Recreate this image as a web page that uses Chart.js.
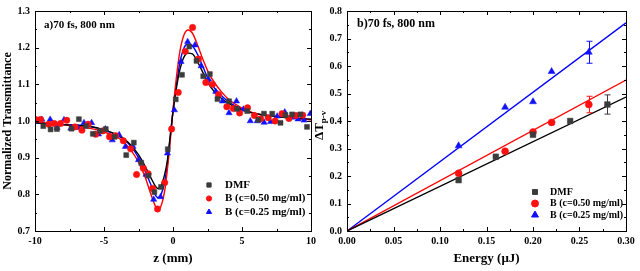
<!DOCTYPE html>
<html>
<head>
<meta charset="utf-8">
<script src="https://cdn.jsdelivr.net/npm/chart.js@4.4.1/dist/chart.umd.min.js"></script>
<style>
  html, body { margin: 0; padding: 0; background: #fff; overflow: hidden; }
  #wa { position: absolute; left: 0; top: 0; width: 320px; height: 271px; }
  #wb { position: absolute; left: 312px; top: 0; width: 328px; height: 271px; }
</style>
</head>
<body>
<div id="wa"><canvas id="ca"></canvas></div>
<div id="wb"><canvas id="cb"></canvas></div>
<script>
// ---- panel a: Z-scan, normalized transmittance vs z (mm) ----
const zDMF = [-9.4, -8.87, -8.41, -7.35, -6.82, -6.3, -5.81, -5.3, -4.87, -4.23, -3.39, -2.84, -2.3, -1.78, -1.35, -0.87, -0.38, 0.2, 0.65, 1.18, 1.7, 2.19, 2.67, 3.22, 4.06, 4.64, 5.38, 6.18, 6.59, 7.19, 7.79, 8.15, 8.63, 9.23, 9.71];
const tDMF = [0.986, 0.977, 0.978, 0.979, 1.005, 0.986, 0.965, 0.973, 0.978, 0.957, 0.907, 0.941, 0.886, 0.851, 0.806, 0.82, 0.923, 1.059, 1.126, 1.203, 1.164, 1.122, 1.128, 1.06, 1.054, 1.033, 1.027, 1.003, 1.02, 1.02, 0.995, 1.016, 1.018, 1.018, 0.984];

const zB50 = [-10, -9.6, -9.0, -8.6, -8.15, -7.7, -7.1, -6.6, -6.15, -5.6, -5.1, -4.6, -4.15, -3.6, -3.07, -2.64, -2.15, -1.8, -1.48, -1.12, -0.6, -0.1, 0.38, 0.89, 1.42, 1.85, 2.38, 2.86, 3.3, 3.9, 4.37, 4.83, 5.4, 5.9, 6.35, 6.9, 7.4, 7.9, 8.4, 8.9, 9.4];
const tB50 = [1.005, 1.004, 0.991, 0.993, 0.993, 1.002, 0.984, 0.975, 0.991, 0.964, 0.973, 0.957, 0.96, 0.946, 0.924, 0.854, 0.871, 0.856, 0.816, 0.76, 0.832, 0.978, 1.078, 1.19, 1.255, 1.169, 1.105, 1.1, 1.072, 1.039, 1.034, 1.022, 1.036, 1.015, 1.006, 1.009, 1.0, 1.02, 1.007, 1.015, 1.016];

const zB25 = [-9.5, -8.9, -8.4, -7.9, -7.4, -6.9, -6.45, -5.9, -5.4, -4.9, -4.4, -3.9, -3.45, -2.9, -2.5, -1.95, -1.4, -0.9, -0.4, 0.1, 0.58, 1.06, 1.59, 2.04, 2.57, 3.1, 3.58, 4.06, 4.6, 5.1, 5.6, 6.1, 6.6, 7.07, 7.55, 8.1, 8.6, 9.06, 9.5, 9.95];
const tB25 = [1.004, 1.004, 0.982, 1.003, 0.98, 0.982, 0.995, 0.995, 0.964, 0.978, 0.948, 0.962, 0.93, 0.93, 0.894, 0.854, 0.786, 0.793, 0.912, 1.03, 1.162, 1.216, 1.207, 1.15, 1.114, 1.08, 1.054, 1.022, 1.054, 1.032, 1.0, 1.0, 0.996, 0.998, 1.013, 1.024, 1.01, 1.005, 1.002, 1.02];

// fitted curves
const zFit = [-10, -8, -6, -5, -4, -3.5, -3, -2.5, -2, -1.6, -1.3, -1.1, -0.9, -0.6, -0.4, -0.2, 0, 0.25, 0.5, 0.8, 1.1, 1.4, 1.8, 2.2, 2.6, 3, 3.5, 4, 5, 6, 8, 10];
const fitDMF = [0.995, 0.99, 0.985, 0.976, 0.962, 0.95, 0.932, 0.908, 0.875, 0.845, 0.824, 0.816, 0.821, 0.855, 0.895, 0.96, 1.025, 1.09, 1.14, 1.175, 1.185, 1.183, 1.16, 1.13, 1.1, 1.08, 1.062, 1.048, 1.03, 1.02, 1.01, 1.005];
const fitB50 = [0.997, 0.99, 0.98, 0.97, 0.955, 0.94, 0.918, 0.888, 0.845, 0.80, 0.77, 0.758, 0.765, 0.81, 0.87, 0.945, 1.03, 1.12, 1.19, 1.235, 1.248, 1.24, 1.205, 1.165, 1.13, 1.105, 1.08, 1.06, 1.035, 1.02, 1.01, 1.003];
const fitB25 = [0.995, 0.99, 0.985, 0.975, 0.96, 0.948, 0.928, 0.90, 0.862, 0.826, 0.80, 0.791, 0.797, 0.835, 0.885, 0.955, 1.028, 1.10, 1.16, 1.2, 1.21, 1.205, 1.18, 1.145, 1.11, 1.09, 1.07, 1.053, 1.032, 1.02, 1.01, 1.004];

// ---- panel b: delta T(p-v) vs energy (uJ) ----
const eDMF = [0.12, 0.16, 0.20, 0.24, 0.28];
const vDMF = [0.185, 0.27, 0.35, 0.40, 0.46];
const errDMF = [0, 0, 0, 0, 0.035];
const eB50 = [0.12, 0.17, 0.20, 0.22, 0.26];
const vB50 = [0.21, 0.29, 0.36, 0.395, 0.46];
const errB50 = [0, 0, 0, 0, 0.03];
const eB25 = [0.12, 0.17, 0.20, 0.22, 0.26];
const vB25 = [0.31, 0.45, 0.47, 0.58, 0.65];
const errB25 = [0, 0, 0, 0, 0.04];
const eFit = [0, 0.30];
const lineDMF = [0, 0.487];
const lineB50 = [0, 0.549];
const lineB25 = [0, 0.757];

const labels = ['DMF', 'B (c=0.50 mg/ml)', 'B (c=0.25 mg/ml)'];

const BLACK = '#3c3c3c', RED = '#ff1010', BLUE = '#1010ff';
const SERIF = "'Liberation Serif', 'Times New Roman', serif";

const pts = (xs, ys) => xs.map((x, i) => ({ x: x, y: ys[i] }));

function scatterSet(data, color, style, r, label) {
  return { data: data, showLine: false, pointStyle: style, pointRadius: r, pointHoverRadius: r,
    backgroundColor: color, borderColor: color, borderWidth: 0.5, legendLabel: label, order: 1 };
}
function fitSet(data, color, curved) {
  return { data: data, showLine: true, pointRadius: 0, borderColor: color, borderWidth: 1.4,
    tension: curved ? 0.4 : 0, cubicInterpolationMode: curved ? 'monotone' : 'default', order: 2 };
}

// frame round the plot plus small inward ticks (major and minor)
const frameTicks = {
  id: 'frameTicks',
  afterDraw(chart) {
    const { ctx, chartArea: a } = chart;
    ctx.save();
    ctx.strokeStyle = '#000';
    ctx.lineWidth = 1;
    ctx.strokeRect(a.left + 0.5, a.top + 0.5, a.right - a.left, a.bottom - a.top);
    ['x', 'y'].forEach(id => {
      const s = chart.scales[id];
      const vals = s.ticks.map(t => t.value);
      const marks = [];
      vals.forEach((v, i) => {
        marks.push([v, 4]);
        if (i < vals.length - 1) marks.push([(v + vals[i + 1]) / 2, 2]);
      });
      ctx.beginPath();
      marks.forEach(([v, len]) => {
        const p = Math.round(s.getPixelForValue(v)) + 0.5;
        if (id === 'x') {
          ctx.moveTo(p, a.bottom); ctx.lineTo(p, a.bottom - len);
          ctx.moveTo(p, a.top); ctx.lineTo(p, a.top + len);
        } else {
          ctx.moveTo(a.left, p); ctx.lineTo(a.left + len, p);
          ctx.moveTo(a.right, p); ctx.lineTo(a.right - len, p);
        }
      });
      ctx.stroke();
    });
    ctx.restore();
  }
};

// panel caption and legend inside the plot
const boxLegend = {
  id: 'boxLegend',
  afterDraw(chart, args, o) {
    const { ctx } = chart;
    ctx.save();
    ctx.fillStyle = '#000';
    ctx.textBaseline = 'middle';
    ctx.font = 'bold ' + o.capSize + 'px ' + SERIF;
    ctx.fillText(o.caption, o.capX, o.capY);
    ctx.font = 'bold ' + o.size + 'px ' + SERIF;
    let row = 0;
    chart.data.datasets.forEach(ds => {
      if (!ds.legendLabel) return;
      const y = o.y + row * o.dy;
      ctx.fillStyle = ds.backgroundColor;
      ctx.strokeStyle = ds.borderColor;
      Chart.helpers.drawPoint(ctx, { pointStyle: ds.pointStyle, radius: o.r[row], rotation: 0, borderWidth: 0.5 }, o.markX, y);
      ctx.fillStyle = '#000';
      ctx.fillText(ds.legendLabel, o.textX, y);
      row++;
    });
    ctx.restore();
  }
};

// vertical error bars with caps
const errorBars = {
  id: 'errorBars',
  afterDatasetsDraw(chart, args, o) {
    const { ctx } = chart;
    const xs = chart.scales.x, ys = chart.scales.y;
    ctx.save();
    ctx.lineWidth = 1;
    o.sets.forEach(([xv, yv, ev, color]) => {
      ctx.strokeStyle = color;
      xv.forEach((x, i) => {
        if (!ev[i]) return;
        const px = Math.round(xs.getPixelForValue(x)) + 0.5;
        const y1 = ys.getPixelForValue(yv[i] - ev[i]);
        const y2 = ys.getPixelForValue(yv[i] + ev[i]);
        ctx.beginPath();
        ctx.moveTo(px, y1); ctx.lineTo(px, y2);
        ctx.moveTo(px - 3, y1); ctx.lineTo(px + 3, y1);
        ctx.moveTo(px - 3, y2); ctx.lineTo(px + 3, y2);
        ctx.stroke();
      });
    });
    ctx.restore();
  }
};

// y title of panel b with its subscript
const subTitle = {
  id: 'subTitle',
  afterDraw(chart, args, o) {
    if (!o.show) return;
    const { ctx } = chart;
    ctx.save();
    ctx.translate(o.x, o.y);
    ctx.rotate(-Math.PI / 2);
    ctx.fillStyle = '#000';
    ctx.textBaseline = 'middle';
    ctx.font = 'bold 13px ' + SERIF;
    ctx.fillText('\u0394T', 0, 0);
    const w = ctx.measureText('\u0394T').width;
    ctx.font = 'bold 9px ' + SERIF;
    ctx.fillText('p-v', w, 4);
    ctx.restore();
  }
};

const tickFont = { family: SERIF, size: 10, weight: 'bold' };
const titleFont = { family: SERIF, size: 13, weight: 'bold' };

function axes(x, y, yWidth) {
  return {
    x: {
      type: 'linear', min: x.min, max: x.max,
      grid: { display: false, drawTicks: false }, border: { display: false },
      ticks: { stepSize: x.step, autoSkip: false, maxRotation: 0, padding: 4, color: '#000', font: tickFont,
        callback: v => x.fmt(v) },
      title: { display: true, text: x.title, color: '#000', font: titleFont, padding: { top: 0, bottom: 5 } },
      afterFit: s => { s.height = 40; }
    },
    y: {
      type: 'linear', min: y.min, max: y.max,
      grid: { display: false, drawTicks: false }, border: { display: false },
      ticks: { stepSize: y.step, autoSkip: false, padding: 5, color: '#000', font: tickFont,
        callback: v => v.toFixed(1) },
      title: { display: !!y.title, text: y.title || '', color: '#000', font: { family: SERIF, size: 12, weight: 'bold' }, padding: { top: 1, bottom: 0 } },
      afterFit: s => { s.width = yWidth; }
    }
  };
}

new Chart(document.getElementById('ca'), {
  type: 'scatter',
  data: {
    datasets: [
      scatterSet(pts(zDMF, tDMF), BLACK, 'rect', 3.5, labels[0]),
      scatterSet(pts(zB50, tB50), RED, 'circle', 3.2, labels[1]),
      scatterSet(pts(zB25, tB25), BLUE, 'triangle', 3.6, labels[2]),
      fitSet(pts(zFit, fitDMF), '#000', true),
      fitSet(pts(zFit, fitB50), '#ff0000', true),
      fitSet(pts(zFit, fitB25), '#0000ff', true)
    ]
  },
  options: {
    responsive: true, maintainAspectRatio: false, animation: false,
    layout: { padding: { top: 9, right: 8, left: 0, bottom: 0 } },
    scales: axes({ min: -10, max: 10, step: 5, fmt: v => String(v), title: 'z (mm)' },
                 { min: 0.7, max: 1.3, step: 0.1, title: 'Normalized Transmittance' }, 35),
    plugins: {
      legend: { display: false }, tooltip: { enabled: false },
      boxLegend: { caption: 'a)70 fs, 800 nm', capX: 44, capY: 25, capSize: 11,
        size: 11, markX: 209, textX: 225, y: 185, dy: 13.5, r: [3, 2.6, 3] },
      errorBars: { sets: [] },
      subTitle: { show: false }
    }
  },
  plugins: [frameTicks, boxLegend, errorBars, subTitle]
});

new Chart(document.getElementById('cb'), {
  type: 'scatter',
  data: {
    datasets: [
      scatterSet(pts(eDMF, vDMF), BLACK, 'rect', 4, labels[0]),
      scatterSet(pts(eB50, vB50), RED, 'circle', 3.5, labels[1]),
      scatterSet(pts(eB25, vB25), BLUE, 'triangle', 4, labels[2]),
      fitSet(pts(eFit, lineDMF), '#000', false),
      fitSet(pts(eFit, lineB50), '#ff0000', false),
      fitSet(pts(eFit, lineB25), '#0000ff', false)
    ]
  },
  options: {
    responsive: true, maintainAspectRatio: false, animation: false,
    layout: { padding: { top: 9, right: 14, left: 0, bottom: 0 } },
    scales: axes({ min: 0, max: 0.30, step: 0.05, fmt: v => v.toFixed(2), title: 'Energy (\u03bcJ)' },
                 { min: 0, max: 0.8, step: 0.1, title: '' }, 35),
    plugins: {
      legend: { display: false }, tooltip: { enabled: false },
      boxLegend: { caption: 'b)70 fs, 800 nm', capX: 45, capY: 24, capSize: 12,
        size: 10, markX: 223, textX: 238, y: 192, dy: 11.5, r: [3.5, 3.5, 4] },
      errorBars: { sets: [[eDMF, vDMF, errDMF, BLACK], [eB50, vB50, errB50, RED], [eB25, vB25, errB25, BLUE]] },
      subTitle: { show: true, x: 8, y: 140 }
    }
  },
  plugins: [frameTicks, boxLegend, errorBars, subTitle]
});
</script>
</body>
</html>
